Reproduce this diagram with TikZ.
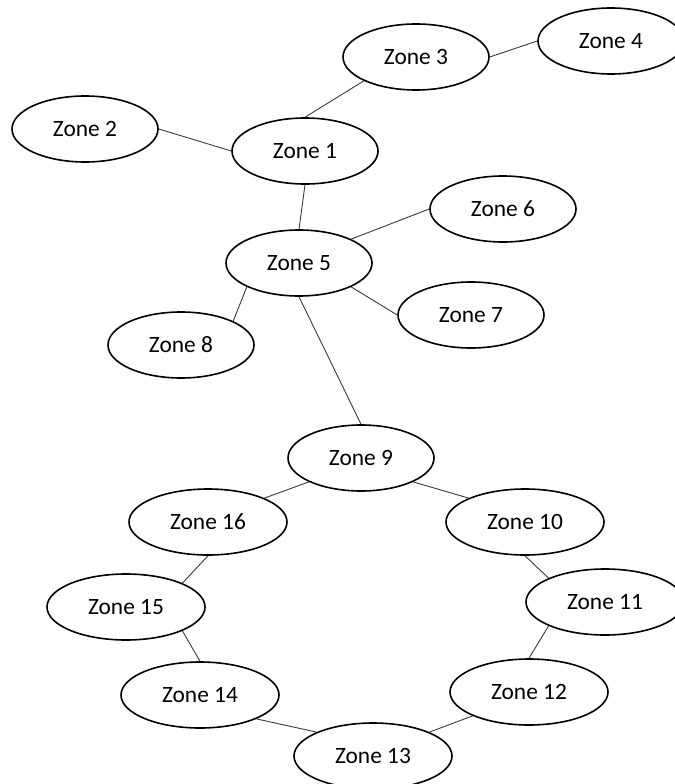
\documentclass[tikz,border=0pt]{standalone}
\usepackage{fontspec}
\setmainfont{Carlito}
\usetikzlibrary{shapes.geometric}
\definecolor{linkgray}{HTML}{3A3A3A}
\tikzset{
  zone/.style={ellipse, draw=black, line width=1.6bp, fill=white,
    inner sep=0pt, minimum width=146bp, minimum height=66bp,
    font=\fontsize{23.5}{26}\selectfont},
  widezone/.style={zone, minimum width=158bp},
  link/.style={draw=linkgray, line width=0.9bp}
}
\begin{document}
\begin{tikzpicture}[x=1bp,y=-1bp]
\useasboundingbox (0,0) rectangle (675,784);
% upper tree
\node[zone] (z1) at (305,151) {Zone 1};
\node[zone] (z2) at (85,129) {Zone 2};
\node[zone] (z3) at (416,57) {Zone 3};
\node[zone] (z4) at (611,41) {Zone 4};
\node[zone] (z5) at (299,263) {Zone 5};
\node[zone] (z6) at (503,209) {Zone 6};
\node[zone] (z7) at (471,315) {Zone 7};
\node[zone] (z8) at (181,345) {Zone 8};
% ring
\node[zone] (z9) at (361,458) {Zone 9};
\node[widezone] (z10) at (525,522) {Zone 10};
\node[widezone] (z11) at (605,602) {Zone 11};
\node[widezone] (z12) at (529,692) {Zone 12};
\node[widezone] (z13) at (373,756) {Zone 13};
\node[widezone] (z14) at (200,695) {Zone 14};
\node[widezone] (z15) at (126,607) {Zone 15};
\node[widezone] (z16) at (208,522) {Zone 16};
% connectors
\draw[link] (z2.east) -- (z1.west);
\draw[link] (z1.north) -- (z3.south west);
\draw[link] (z3.east) -- (z4.west);
\draw[link] (z1.south) -- (z5.north);
\draw[link] (z5.north east) -- (z6.west);
\draw[link] (z5.south east) -- (z7.west);
\draw[link] (z5.south west) -- (z8.north east);
\draw[link] (z5.south) -- (z9.north);
\draw[link] (z9.south west) -- (z16.north east);
\draw[link] (z9.south east) -- (z10.north west);
\draw[link] (z10.south) -- (z11.north west);
\draw[link] (z11.south west) -- (z12.north);
\draw[link] (z12.south west) -- (z13.north east);
\draw[link] (z13.north west) -- (z14.south east);
\draw[link] (z14.north) -- (z15.south east);
\draw[link] (z15.north east) -- (z16.south);
\end{tikzpicture}
\end{document}
